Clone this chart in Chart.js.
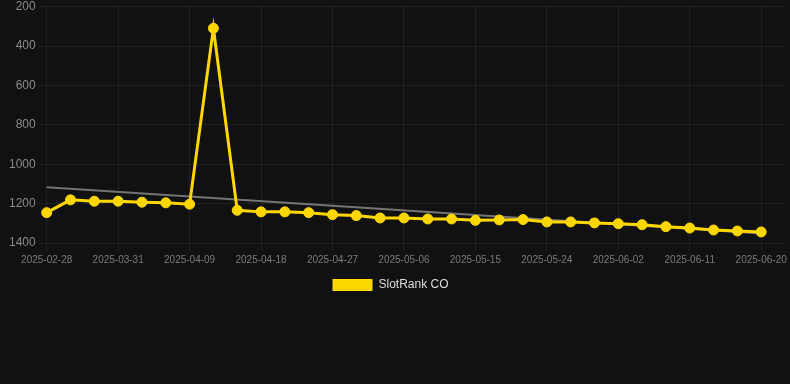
<!DOCTYPE html>
<html>
<head>
<meta charset="utf-8">
<script src="https://cdn.jsdelivr.net/npm/chart.js@4"></script>
<style>
  html, body { margin: 0; padding: 0; background: #111111; overflow: hidden; }
  #wrap { position: relative; width: 791px; height: 301px; }
</style>
</head>
<body>
<div id="wrap"><canvas id="chart"></canvas></div>
<script>
// dates on the x axis (last one is an empty slot)
var labels = ['2025-02-28', '2025-03-25', '2025-03-28', '2025-03-31', '2025-04-03', '2025-04-06',
    '2025-04-09', '2025-04-12', '2025-04-15', '2025-04-18', '2025-04-21', '2025-04-24',
    '2025-04-27', '2025-04-30', '2025-05-03', '2025-05-06', '2025-05-09', '2025-05-12',
    '2025-05-15', '2025-05-18', '2025-05-21', '2025-05-24', '2025-05-27', '2025-05-30',
    '2025-06-02', '2025-06-05', '2025-06-08', '2025-06-11', '2025-06-14', '2025-06-17',
    '2025-06-20', '2025-06-23'];

// rank values (lower is better, axis reversed)
var rankValues = [1246, 1181, 1188, 1188, 1193, 1196, 1203, 310, 1234, 1242, 1242,
    1246, 1256, 1261, 1273, 1273, 1278, 1278, 1285, 1283, 1281, 1293, 1293, 1298,
    1302, 1307, 1317, 1324, 1334, 1339, 1344, null];

// trend line: start and end values only
var trendStart = 1117;
var trendEnd = 1352;

var yTicks = { min: 200, max: 1400, step: 200 };

var trendData = labels.map(function(l, i) {
    if (i === 0) return trendStart;
    if (i === rankValues.length - 2) return trendEnd;
    return null;
});

var gridColor = 'rgba(255,255,255,0.06)';

function xGrid(ctx) {
    return (ctx.index % 3 === 0 && ctx.index <= 30) ? gridColor : 'transparent';
}

// nudge the legend a little to the left
var legendShift = {
    id: 'legendShift',
    afterLayout: function(chart) {
        chart.legend.left -= 8;
        chart.legend.right -= 8;
    }
};

var ctx = document.getElementById('chart').getContext('2d');
window.chart = new Chart(ctx, {
    type: 'line',
    data: {
        labels: labels,
        datasets: [{
            label: 'SlotRank CO',
            data: rankValues,
            borderColor: '#FFD700',
            backgroundColor: '#FFD700',
            borderWidth: 3,
            pointRadius: 5,
            pointBorderWidth: 1,
            pointBackgroundColor: '#FFD700',
            pointBorderColor: '#FFD700',
            tension: 0,
            fill: false,
            order: 1
        }, {
            label: 'trend',
            data: trendData,
            borderColor: 'rgba(150,150,150,0.75)',
            borderWidth: 2,
            pointRadius: 0,
            spanGaps: true,
            fill: false,
            order: 2
        }]
    },
    plugins: [legendShift],
    options: {
        responsive: true,
        maintainAspectRatio: false,
        animation: false,
        layout: { padding: { top: 0, left: 6 } },
        plugins: {
            legend: {
                position: 'bottom',
                labels: {
                    color: '#dddddd',
                    font: { size: 12 },
                    boxWidth: 40,
                    boxHeight: 12,
                    generateLabels: function(chart) {
                        var items = Chart.defaults.plugins.legend.labels.generateLabels(chart);
                        items.forEach(function(it) { it.lineWidth = 0; });
                        return items.filter(function(it) { return it.text !== 'trend'; });
                    }
                }
            },
            tooltip: { enabled: false }
        },
        scales: {
            x: {
                grid: { color: xGrid, tickColor: xGrid, tickLength: 8 },
                border: { display: false },
                ticks: {
                    color: '#7a7a7a',
                    font: { size: 10 },
                    autoSkip: false,
                    maxRotation: 0,
                    callback: function(v, i) {
                        return (i % 3 === 0 && i <= 30) ? this.getLabelForValue(v) : '';
                    }
                }
            },
            y: {
                reverse: true,
                min: yTicks.min,
                max: yTicks.max,
                grid: { color: gridColor, tickLength: 8 },
                border: { display: false },
                ticks: {
                    stepSize: yTicks.step,
                    color: '#8a8a8a',
                    font: { size: 12, lineHeight: 0.6 },
                    callback: function(v) { return String(v); }
                }
            }
        }
    }
});
</script>
</body>
</html>
